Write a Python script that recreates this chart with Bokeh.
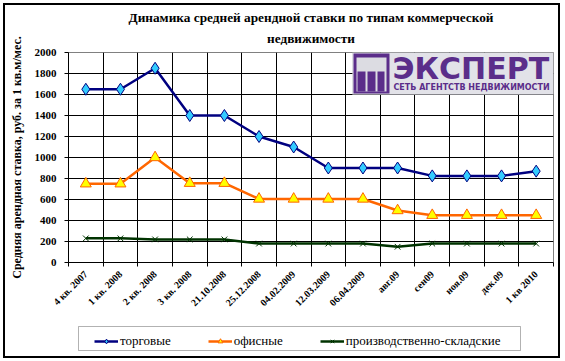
import math
from bokeh.plotting import figure
from bokeh.layouts import column
from bokeh.models import (FixedTicker, Legend, LegendItem, BoxAnnotation, Label, Range1d,
                          Title, InlineStyleSheet)
from bokeh.embed import file_html
from bokeh.resources import INLINE

categories = ["4 кв. 2007", "1 кв. 2008", "2 кв. 2008", "3 кв. 2008", "21.10.2008",
              "25.12.2008", "04.02.2009", "12.03.2009", "06.04.2009", "авг.09",
              "сен09", "ноя.09", "дек.09", "1 кв 2010"]
trade = [1650, 1650, 1850, 1400, 1400, 1200, 1100, 900, 900, 900, 825, 825, 825, 870]
office = [750, 750, 1000, 755, 755, 605, 605, 605, 605, 495, 450, 450, 450, 450]
industrial = [230, 230, 220, 220, 220, 180, 180, 180, 180, 150, 180, 180, 180, 180]
y_ticks = [0, 200, 400, 600, 800, 1000, 1200, 1400, 1600, 1800, 2000]

title_line1 = "Динамика средней арендной ставки по типам коммерческой"
title_line2 = "недвижимости"
y_label = "Средняя арендная ставка, руб. за 1 кв.м/мес."
series_names = ["торговые", "офисные", "производственно-складские"]

n = len(categories)
xs = [i + 0.5 for i in range(n)]
SERIF = "Liberation Serif"
W = 562

p = figure(width=W, height=318, x_range=Range1d(0, n), y_range=Range1d(0, 2000),
           output_backend="svg", toolbar_location=None,
           min_border_left=68, min_border_right=9, min_border_bottom=56, min_border_top=52)
p.outline_line_color = "#808080"
p.outline_line_width = 1

# title: two centred lines (line 2 is nearest the plot area)
p.title_location = None
p.add_layout(Title(text=title_line2, align="center", vertical_align="top", standoff=9,
                   text_font=SERIF, text_font_size="13.3px", text_font_style="bold",
                   text_color="black"), "above")
p.add_layout(Title(text=title_line1, align="center", vertical_align="bottom", standoff=3,
                   text_font=SERIF, text_font_size="13.3px", text_font_style="bold",
                   text_color="black"), "above")

# x axis
p.xaxis.ticker = FixedTicker(ticks=xs, minor_ticks=list(range(n + 1)))
p.xaxis.major_label_overrides = {x: c for x, c in zip(xs, categories)}
p.xaxis.major_label_orientation = math.pi / 4
p.xaxis.major_tick_line_color = None
p.xaxis.minor_tick_line_color = "black"
p.xaxis.minor_tick_out = 4
p.xaxis.minor_tick_in = 0
p.xaxis.axis_line_color = "black"
p.xaxis.major_label_text_font = SERIF
p.xaxis.major_label_text_font_style = "bold"
p.xaxis.major_label_text_font_size = "10px"
p.xaxis.major_label_text_color = "black"
p.xaxis.major_label_standoff = 4

# y axis
p.yaxis.ticker = FixedTicker(ticks=y_ticks)
p.yaxis.minor_tick_line_color = None
p.yaxis.major_tick_out = 4
p.yaxis.major_tick_in = 0
p.yaxis.major_tick_line_color = "black"
p.yaxis.axis_line_color = "black"
p.yaxis.major_label_text_font = SERIF
p.yaxis.major_label_text_font_style = "bold"
p.yaxis.major_label_text_font_size = "11px"
p.yaxis.major_label_text_color = "black"
p.yaxis.major_label_standoff = 8
p.yaxis.axis_label = y_label
p.yaxis.axis_label_text_font = SERIF
p.yaxis.axis_label_text_font_style = "bold"
p.yaxis.axis_label_text_font_size = "12px"
p.yaxis.axis_label_text_color = "black"
p.yaxis.axis_label_standoff = 8

# grids
p.xgrid.ticker = FixedTicker(ticks=list(range(1, n)))
p.xgrid.grid_line_color = "black"
p.xgrid.grid_line_width = 1
p.ygrid.ticker = FixedTicker(ticks=y_ticks[1:-1])
p.ygrid.grid_line_color = "black"
p.ygrid.grid_line_width = 1

# positions of decorations, in frame screen units (reference pixel coordinates)
def fx(rx):
    return rx - 68
def fy(ry):
    return 262 - ry

def box(fig, l, r, t, b, color, line=None):
    fig.add_layout(BoxAnnotation(left=l, right=r, top=t, bottom=b,
                                 left_units="screen", right_units="screen",
                                 top_units="screen", bottom_units="screen",
                                 fill_color=color, fill_alpha=1,
                                 line_color=line, line_width=1))

# logo
PURPLE = "#5b2d8a"
box(p, fx(352), fx(553), fy(52), fy(94), "#e2e2e8", "#b0b0b8")
box(p, fx(353), fx(389), fy(53), fy(93), PURPLE)
box(p, fx(356), fx(386), fy(57), fy(91), "#dcdce2")
for a, b in [(357, 365), (367, 375), (377, 384)]:
    box(p, fx(a), fx(b), fy(71), fy(91), PURPLE)
p.add_layout(Label(x=fx(392), y=fy(67.5), x_units="screen", y_units="screen",
                   text="ЭКСПЕРТ", text_font="DejaVu Sans", text_font_style="bold",
                   text_font_size="30px", text_color=PURPLE, text_align="left",
                   text_baseline="middle"))
p.add_layout(Label(x=fx(393), y=fy(86.5), x_units="screen", y_units="screen",
                   text="СЕТЬ АГЕНТСТВ НЕДВИЖИМОСТИ", text_font="DejaVu Sans",
                   text_font_style="bold", text_font_size="8px", text_color=PURPLE,
                   text_align="left", text_baseline="middle"))

# series
styles = [dict(color="#000080", marker="diamond", size=12, fill="#33ccff"),
          dict(color="#ff6600", marker="triangle", size=11, fill="#ffff00"),
          dict(color="#003300", marker="x", size=8, fill=None)]
series = [trade, office, industrial]
for ys, st in zip(series, styles):
    p.line(xs, ys, line_color=st["color"], line_width=2.5)
    p.scatter(xs, ys, marker=st["marker"], size=st["size"], fill_color=st["fill"],
              line_color=st["color"], line_width=1)

# legend figure (its data range is kept out of view; only the legend shows)
q = figure(width=W, height=43, x_range=Range1d(-20, -10), y_range=Range1d(-20, -10),
           output_backend="svg", toolbar_location=None, x_axis_type=None, y_axis_type=None,
           min_border=0, min_border_left=68, min_border_right=9,
           min_border_top=0, min_border_bottom=0)
q.grid.visible = False
q.outline_line_color = None
items = []
for name, ys, st in zip(series_names, series, styles):
    lr = q.line(xs, ys, line_color=st["color"], line_width=2.5)
    mr = q.scatter(xs, ys, marker=st["marker"], size=st["size"], fill_color=st["fill"],
                   line_color=st["color"], line_width=1)
    items.append(LegendItem(label=name, renderers=[lr, mr]))

# legend frame: reference x 78..520, y 326..350 (q starts at y 318, frame left at x 68)
box(q, 10, 452, 361 - 326, 361 - 350, "white", "black")
legend = Legend(items=items, orientation="horizontal", location=(26, 12),
                padding=4, spacing=37, glyph_width=24, glyph_height=12,
                label_standoff=2, border_line_color=None,
                background_fill_alpha=0,
                label_text_font=SERIF, label_text_font_size="13px",
                label_text_color="black", margin=0)
q.add_layout(legend)

layout = column(p, q, spacing=0)
layout.stylesheets = [InlineStyleSheet(css=(
    ":host { position: relative; }"
    ":host::after { content: ''; position: absolute; left: 3px; top: 3px; "
    "width: 553px; height: 351px; border: 2px solid black; "
    "pointer-events: none; z-index: 100; }"))]

open("out.html", "w").write(file_html(layout, INLINE))
